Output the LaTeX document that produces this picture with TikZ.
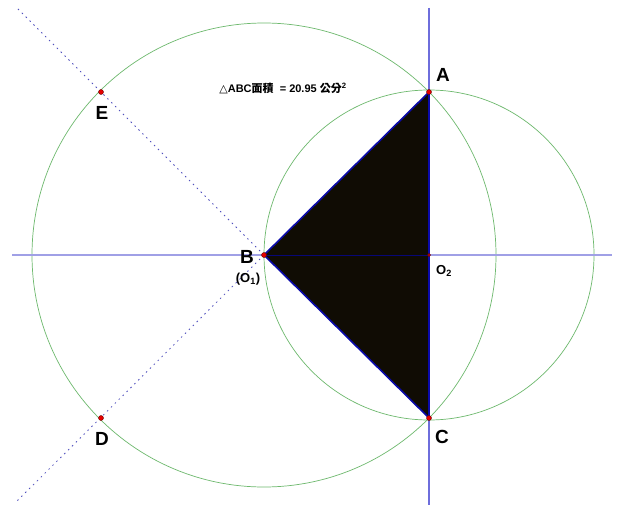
\documentclass[tikz,border=0pt]{standalone}
\usepackage{fontspec}
\setmainfont{Liberation Sans}
\newfontfamily\cjk{Noto Sans CJK TC}
\newfontfamily\dv{DejaVu Sans}
\definecolor{circ}{RGB}{110,185,110}
\definecolor{vline}{RGB}{110,110,220}
\definecolor{hline}{RGB}{160,160,230}
\definecolor{edge}{RGB}{10,10,170}
\definecolor{fillc}{RGB}{16,12,4}
\definecolor{ray}{RGB}{80,80,190}
\tikzset{
  pt/.style={circle,fill=red!90!black,draw=red!40!black,line width=0.4pt,inner sep=0pt,minimum size=5pt},
  lab/.style={font=\fontsize{19}{19}\selectfont\bfseries,inner sep=0pt},
  sublab/.style={font=\fontsize{13}{13}\selectfont\bfseries,inner sep=0pt},
  circle line/.style={draw=circ,line width=0.7pt},
  rayline/.style={draw=ray,line width=0.8pt,dash pattern=on 1.5pt off 4pt}
}
\begin{document}
\begin{tikzpicture}[x=1pt,y=-1pt]
\useasboundingbox[fill=white] (0,0) rectangle (617,505);
% coordinates
\coordinate (hl) at (12,255);
\coordinate (hr) at (612,255);
\coordinate (vt) at (429,8);
\coordinate (vb) at (429,505);
\coordinate (e1) at (17,8);
\coordinate (d1) at (16,502);
\coordinate (Bc) at (264,255);
\coordinate (O2c) at (429,255);
\coordinate (Ac) at (429,92);
\coordinate (Cc) at (429,418);
% circles
\draw[circle line] (Bc) circle[radius=232pt];
\draw[circle line] (O2c) circle[radius=165pt];
% axis lines
\draw[hline,line width=1.1pt] (hl) -- (hr);
\draw[vline,line width=1.2pt] (vt) -- (vb);
% rays
\draw[rayline] (Bc) -- (e1);
\draw[rayline] (Bc) -- (d1);
% triangle
\fill[fillc] (Ac) -- (Bc) -- (Cc) -- cycle;
\draw[draw=edge!70!black,line width=1pt] (Bc) -- (O2c);
\draw[edge,line width=1.6pt,line join=round] (Ac) -- (Bc) -- (Cc) -- cycle;
% points
\node[pt] (A) at (Ac) {};
\node[pt] (B) at (Bc) {};
\node[pt] (C) at (Cc) {};
\node[pt,minimum size=3pt] (O2) at (O2c) {};
\node[pt] (E) at (101,92) {};
\node[pt] (D) at (101,418) {};
% labels
\node[lab] (lA) at (443,75) {A};
\node[lab] (lE) at (102,113) {E};
\node[lab] (lB) at (247,257) {B};
\node[sublab] (lO1) at (248,279) {(O\textsubscript{1})};
\node[sublab] (lO2) at (444,271) {O\textsubscript{2}};
\node[lab] (lC) at (442,437) {C};
\node[lab] (lD) at (102,439) {D};
\node[inner sep=0pt,font=\fontsize{11}{11}\selectfont\bfseries] (title) at (283,88)
  {{\dv\mdseries △}ABC{\cjk 面積}\ \ = 20.95 {\cjk 公分}\textsuperscript{2}};
\end{tikzpicture}
\end{document}
